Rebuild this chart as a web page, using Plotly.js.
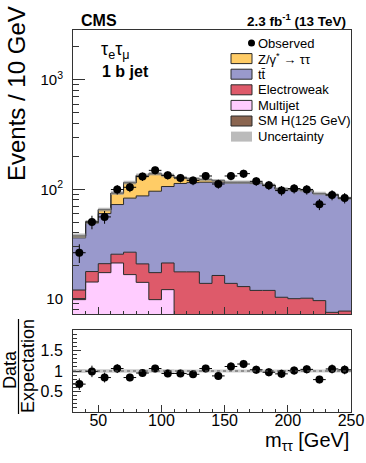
<!DOCTYPE html>
<html><head><meta charset="utf-8">
<script src="https://cdn.plot.ly/plotly-3.0.1.min.js"></script>
<style>html,body{margin:0;padding:0;background:#fff}#plot{width:366px;height:463px}</style>
</head><body><div id="plot"></div>
<script>
// ---- data ----
const binEdges = [30,40,50,60,70,80,90,100,110,120,130,140,150,160,170,180,190,200,210,220,230,240,250];
const binCenters = [35,45,55,65,75,85,95,105,115,125,135,145,155,165,175,185,195,205,215,225,235,245];
const multijet    = [9.8,14.2,17.3,21.2,16.6,14.1,9.8,12.1,0,0,0,0,0,0,0,0,0,0,0,0,0,0];
const electroweak = [2.2,3.5,3.6,4.3,10.0,6.7,7.5,9.1,17.6,17.6,13.8,16.3,13.8,12.9,11.9,11.9,10.3,10.0,10.1,9.6,7.5,7.7];
const ttbar       = [24,31.3,39.1,47,56.4,66.2,78.7,84.8,95.4,97.4,102.2,99.7,100.2,101.1,101.1,96.1,89.7,89,86.9,81.4,81,74.3];
const ztautau     = [1.4,1.3,5.0,19.5,31.3,46.2,42.2,27.3,14.4,9.5,6.6,3.7,1.7,1.8,1.3,0.8,0.9,0.4,0.4,0.4,0.4,0.4];
const smHiggs     = [0.1,0.2,0.3,0.5,0.7,0.8,0.8,0.7,0.6,0.5,0.4,0.3,0.3,0.2,0.2,0.2,0.1,0.1,0.1,0.1,0.1,0.1];
const relUnc      = [0.05,0.04,0.04,0.04,0.04,0.04,0.04,0.04,0.035,0.035,0.035,0.035,0.035,0.035,0.035,0.035,0.035,0.035,0.035,0.035,0.035,0.035];
const observed    = [26.3,50.2,55.9,99.4,104.3,130.6,149,134.2,126.8,120,132.3,111.8,132.3,139,118.3,108.8,97.3,101.5,99.4,73,88.7,83.3];
const observedErr = [5.1,7.1,7.5,10,10.2,11.4,12.2,11.6,11.3,11,11.5,10.6,11.5,11.8,10.9,10.4,9.9,10,10,8.5,9.4,9.1];
const ratio       = [0.68,0.99,0.84,1.06,0.84,0.95,1.06,0.94,0.94,0.92,1.06,0.88,1.11,1.17,1.03,0.97,0.93,1.01,1.04,0.79,1.05,1.03];
const ratioErr    = [0.14,0.14,0.12,0.11,0.09,0.09,0.09,0.09,0.09,0.09,0.09,0.09,0.10,0.10,0.10,0.10,0.10,0.10,0.10,0.09,0.11,0.11];
const yTickVals = [10,100,1000];
const yTickText = ['10','10<sup>2</sup>','10<sup>3</sup>'];
const rTickVals = [0.5,1,1.5];
const rTickText = ['0.5','1','1.5'];
const legendLabels = ['Observed','Z/γ<sup>*</sup> → ττ','tt\u0304','Electroweak','Multijet','SM H(125 GeV)','Uncertainty'];

// ---- styling ----
const FONT = 'Liberation Sans, Arial, Helvetica, sans-serif';
const colors = {mj:'#ffccff', ewk:'#de5a6a', tt:'#9999cc', z:'#ffcc66', h:'#8a6550', unc:'rgba(150,150,150,0.65)'};
const OUT = '#2a2a2a';
const FLOOR = 1; // drawing floor below visible log range

function cum(arrs){ const out=[]; let run=new Array(arrs[0].length).fill(0); for(const a of arrs){ run=run.map((v,i)=>v+a[i]); out.push(run.slice()); } return out; }
const [cMJ,cEWK,cTT,cZ,cH] = cum([multijet,electroweak,ttbar,ztautau,smHiggs]);
const step = a => a.concat([a[a.length-1]]);
const flo = a => a.map(v=>Math.max(v,FLOOR));

const traces = [];
traces.push({x:binEdges, y:step(binEdges.slice(0,-1).map(()=>FLOOR)), mode:'lines', line:{width:0, shape:'hv'}, hoverinfo:'skip', xaxis:'x', yaxis:'y'});
const layers = [[cMJ,colors.mj],[cEWK,colors.ewk],[cTT,colors.tt],[cZ,colors.z],[cH,colors.h]];
for(const [c,col] of layers){
  traces.push({x:binEdges, y:step(flo(c)), mode:'lines', line:{color:OUT,width:1,shape:'hv'}, fill:'tonexty', fillcolor:col, hoverinfo:'skip', xaxis:'x', yaxis:'y'});
}
traces.push({x:binEdges, y:step(cH.map((v,i)=>v*(1-relUnc[i]))), mode:'lines', line:{width:0,shape:'hv'}, hoverinfo:'skip', xaxis:'x', yaxis:'y'});
traces.push({x:binEdges, y:step(cH.map((v,i)=>v*(1+relUnc[i]))), mode:'lines', line:{width:0,shape:'hv'}, fill:'tonexty', fillcolor:colors.unc, hoverinfo:'skip', xaxis:'x', yaxis:'y'});
traces.push({x:binCenters, y:observed, mode:'markers', marker:{color:'#000',size:8},
  error_y:{type:'data',array:observedErr,color:'#000',thickness:1,width:0},
  error_x:{type:'constant',value:5,color:'#000',thickness:1,width:0}, xaxis:'x', yaxis:'y'});
// ratio panel
traces.push({x:binEdges, y:step(relUnc.map(u=>1-u)), mode:'lines', line:{width:0,shape:'hv'}, hoverinfo:'skip', xaxis:'x2', yaxis:'y2'});
traces.push({x:binEdges, y:step(relUnc.map(u=>1+u)), mode:'lines', line:{width:0,shape:'hv'}, fill:'tonexty', fillcolor:'rgba(160,160,160,0.55)', hoverinfo:'skip', xaxis:'x2', yaxis:'y2'});
traces.push({x:binCenters, y:ratio, mode:'markers', marker:{color:'#000',size:8},
  error_y:{type:'data',array:ratioErr,color:'#000',thickness:1,width:0},
  error_x:{type:'constant',value:5,color:'#000',thickness:1,width:0}, xaxis:'x2', yaxis:'y2'});

// pixel -> paper helpers (plot frame: x 73..351, y 30..412)
const L=73, R=351, T=30, B=412, W=R-L, H=B-T;
const px = x => (x-L)/W, py = y => (B-y)/H;

const ann = [], shapes = [];
const A = (text,x,y,opt={}) => ann.push(Object.assign({text, x:px(x), y:py(y), xref:'paper', yref:'paper', showarrow:false, xanchor:'left', yanchor:'middle', font:{family:FONT,size:13,color:'#000'}}, opt));
A('<b>CMS</b>',79,20,{font:{family:FONT,size:16,color:'#000'}});
A('<b>2.3 fb<sup>-1</sup> (13 TeV)</b>',348,20,{xanchor:'right',font:{family:FONT,size:13.5,color:'#000'}});
A('τ<sub>e</sub>τ<sub>μ</sub>',99,50,{font:{family:FONT,size:18,color:'#000'}});
A('<b>1 b jet</b>',100,72,{font:{family:FONT,size:16,color:'#000'}});
A('Events / 10 GeV',17,94,{xanchor:'center',textangle:-90,font:{family:FONT,size:24,color:'#000'}});
A('Data',10,370,{xanchor:'center',textangle:-90,font:{family:FONT,size:18,color:'#000'}});
A('Expectation',28,366,{xanchor:'center',textangle:-90,font:{family:FONT,size:18,color:'#000'}});
A('m<sub>ττ</sub> [GeV]',351,442,{xanchor:'right',font:{family:FONT,size:20,color:'#000'}});
shapes.push({type:'line',xref:'paper',yref:'paper',x0:px(18.5),x1:px(18.5),y0:py(319),y1:py(414),line:{color:'#000',width:1.2}});
shapes.push({type:'line',xref:'paper',yref:'y2',x0:0,x1:1,y0:1,y1:1,line:{color:'#555',width:1,dash:'dot'}});

const legCols = [null, colors.z, colors.tt, colors.ewk, colors.mj, colors.h, '#bbbbbb'];
legendLabels.forEach((lab,i)=>{
  const yc = 43 + 15.6*i;
  A(lab,256,yc);
  if(i===0){
    shapes.push({type:'circle',xref:'paper',yref:'paper',x0:px(248),x1:px(255),y0:py(yc+3.5),y1:py(yc-3.5),fillcolor:'#000',line:{width:0}});
  } else {
    shapes.push({type:'rect',xref:'paper',yref:'paper',x0:px(231),x1:px(252),y0:py(yc+5),y1:py(yc-5),fillcolor:legCols[i],line:{color: i===6?'rgba(0,0,0,0)':OUT,width:i===6?0:1}});
  }
});

const axBase = {showline:true, mirror:true, linecolor:'#333', linewidth:1, showgrid:false, zeroline:false, ticks:'inside', tickcolor:'#333',
  tickfont:{family:FONT,size:16,color:'#000'}};
const layout = {
  width:366, height:463, margin:{l:L,r:366-R,t:T,b:463-B}, showlegend:false,
  paper_bgcolor:'#fff', plot_bgcolor:'#fff', font:{family:FONT,color:'#000'},
  xaxis:Object.assign({}, axBase, {domain:[0,1], anchor:'y', range:[30,250], showticklabels:false, tick0:0, dtick:50, ticklen:7,
    minor:{tick0:0,dtick:10,ticks:'inside',ticklen:3.5,tickcolor:'#333'}}),
  xaxis2:Object.assign({}, axBase, {domain:[0,1], anchor:'y2', matches:'x', range:[30,250], tick0:0, dtick:50, ticklen:7, ticklabelstandoff:-6,
    minor:{tick0:0,dtick:10,ticks:'inside',ticklen:3.5,tickcolor:'#333'}}),
  yaxis:Object.assign({}, axBase, {domain:[(B-314)/H,1], anchor:'x', type:'log', range:[0.86,3.456], tickmode:'array', tickvals:yTickVals, ticktext:yTickText, ticklen:12,
    tickfont:{family:FONT,size:15,color:'#000'}, ticklabelstandoff:6,
    minor:{tickmode:'array', tickvals:[8,9,20,30,40,50,60,70,80,90,200,300,400,500,600,700,800,900,2000], ticks:'inside', ticklen:6, tickcolor:'#333'}}),
  yaxis2:Object.assign({}, axBase, {domain:[0,(B-330)/H], anchor:'x2', range:[0,2], tickmode:'array', tickvals:rTickVals, ticktext:rTickText, ticklen:8,
    tickfont:{family:FONT,size:16,color:'#000'}, ticklabelstandoff:6,
    minor:{tick0:0,dtick:0.1,ticks:'inside',ticklen:4,tickcolor:'#333'}}),
  annotations:ann, shapes:shapes
};
Plotly.newPlot('plot', traces, layout, {staticPlot:true, displayModeBar:false});
</script></body></html>
